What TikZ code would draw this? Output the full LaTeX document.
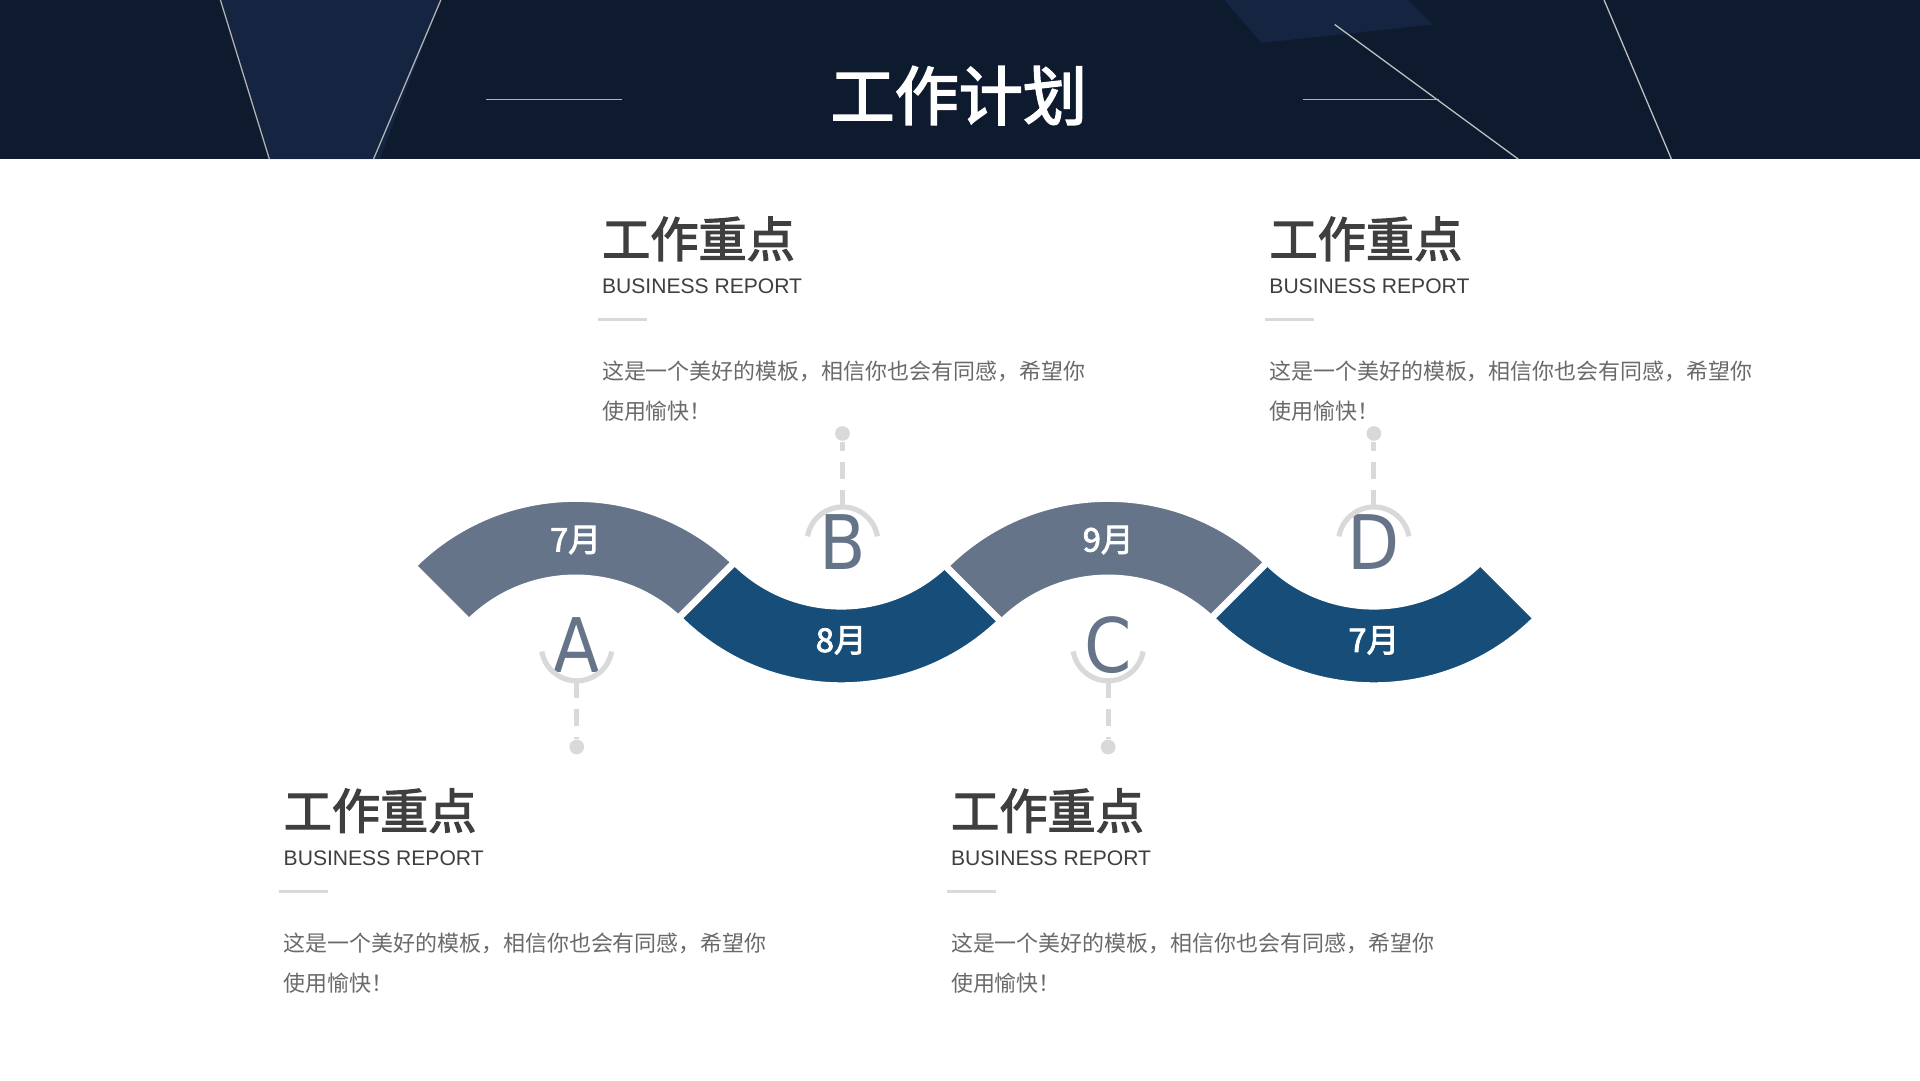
\documentclass[tikz,border=0pt]{standalone}
\usepackage{fontspec}
\setmainfont{Liberation Sans}
\newfontfamily\cjk[AutoFakeBold=2.5]{Noto Sans CJK SC}
\newfontfamily\thin{DejaVu Sans Condensed}
\definecolor{navy}{HTML}{0E1A2E}
\definecolor{facet}{HTML}{1B2F55}
\definecolor{slate}{HTML}{667489}
\definecolor{deepblue}{HTML}{164E79}
\definecolor{txt}{HTML}{3F3F3F}
\definecolor{body}{HTML}{6A6A6A}
\definecolor{lg}{HTML}{D9D9D9}
\tikzset{
 band/.style={draw=white,line width=1.6pt,line join=miter},
 letter/.style={text=slate,font=\thin\fontsize{17.5}{17.5}\selectfont,inner sep=0},
 month/.style={text=white,font=\cjk\bfseries\fontsize{7.6}{8}\selectfont},
 conn/.style={lg,line width=1.2pt,dash pattern=on 4pt off 2.5pt},
 ring/.style={lg,line width=1.2pt},
 dotn/.style={circle,fill=lg,minimum size=0.12cm,inner sep=0},
 ttl/.style={anchor=west,text=txt,font=\cjk\bfseries\fontsize{11.2}{12}\selectfont,inner sep=0},
 sub/.style={anchor=west,text=txt,font=\fontsize{4.9}{6}\selectfont,inner sep=0},
 bod/.style={anchor=west,text=body,font=\cjk\fontsize{5.1}{6}\selectfont,inner sep=0},
}
\begin{document}
\begin{tikzpicture}
\useasboundingbox (0,0) rectangle (15.68,-8.82);
\fill[white] (0,0) rectangle (15.68,-8.82);
% header
\fill[navy] (0,0) rectangle (15.68,-1.30);
\begin{scope}
\clip (0,0) rectangle (15.68,-1.30);
\fill[facet,opacity=0.5] (1.8,0) -- (2.2,-1.3) -- (3.1,-1.3) -- (3.6,0) -- cycle;
\fill[facet,opacity=0.5] (10.0,0) -- (10.3,-0.35) -- (11.7,-0.2) -- (11.5,0) -- cycle;
\draw[gray!60,line width=0.3pt] (1.8,0) -- (2.2,-1.3);
\draw[gray!60,line width=0.3pt] (3.05,-1.3) -- (3.6,0);
\draw[gray!50,line width=0.3pt] (10.9,-0.2) -- (12.4,-1.3);
\draw[gray!50,line width=0.3pt] (13.1,0) -- (13.65,-1.3);
\end{scope}
\draw[gray!60,line width=0.3pt] (3.97,-0.81) -- (5.08,-0.81);
\draw[gray!60,line width=0.3pt] (10.64,-0.81) -- (11.75,-0.81);
\node[text=white,font=\cjk\bfseries\fontsize{14.9}{15}\selectfont] (title) at (7.83,-0.78) {工作计划};
% bands
\fill[slate,band] (4.70,-5.95) ++(45:1.88) arc (45:135:1.88) -- ++(315:0.65) arc (135:45:1.23) -- cycle;
\fill[deepblue,band] (6.87,-3.72) ++(225:1.88) arc (225:315:1.88) -- ++(135:0.65) arc (315:225:1.23) -- cycle;
\fill[slate,band] (9.05,-5.95) ++(45:1.88) arc (45:135:1.88) -- ++(315:0.65) arc (135:45:1.23) -- cycle;
\fill[deepblue,band] (11.22,-3.72) ++(225:1.88) arc (225:315:1.88) -- ++(135:0.65) arc (315:225:1.23) -- cycle;
\node[month] (m1) at (4.70,-4.41) {7月};
\node[month] (m2) at (6.87,-5.23) {8月};
\node[month] (m3) at (9.05,-4.41) {9月};
\node[month] (m4) at (11.22,-5.23) {7月};
% letters
\node[letter] (A) at (4.71,-5.27) {A};
\node[letter] (B) at (6.88,-4.43) {B};
\node[letter] (C) at (9.05,-5.27) {C};
\node[letter] (D) at (11.22,-4.43) {D};
\draw[ring] (4.71,-5.27) ++(190:0.29) arc (190:350:0.29);
\draw[ring] (6.88,-4.43) ++(10:0.29) arc (10:170:0.29);
\draw[ring] (9.05,-5.27) ++(190:0.29) arc (190:350:0.29);
\draw[ring] (11.22,-4.43) ++(10:0.29) arc (10:170:0.29);
\coordinate (Ab) at (4.71,-5.56); \coordinate (Bt) at (6.88,-4.14);
\coordinate (Cb) at (9.05,-5.56); \coordinate (Dt) at (11.22,-4.14);
\node[dotn] (dA) at (4.71,-6.10) {};
\node[dotn] (dB) at (6.88,-3.54) {};
\node[dotn] (dC) at (9.05,-6.10) {};
\node[dotn] (dD) at (11.22,-3.54) {};
\draw[conn] (Ab) -- (dA); \draw[conn] (Bt) -- (dB);
\draw[conn] (Cb) -- (dC); \draw[conn] (Dt) -- (dD);
% text blocks
\foreach \n/\x/\y in {b1/4.91/0, b2/10.36/0, b3/2.31/4.67, b4/7.76/4.67}{
 \node[ttl] (\n t) at (\x,-1.95-\y) {工作重点};
 \node[sub] (\n s) at (\x,-2.34-\y) {BUSINESS REPORT};
 \draw[lg,line width=0.8pt] (\x-0.03,-2.61-\y) -- (\x+0.37,-2.61-\y);
 \node[bod] (\n a) at (\x,-3.03-\y) {这是一个美好的模板，相信你也会有同感，希望你};
 \node[bod] (\n b) at (\x,-3.36-\y) {使用愉快！};
}
\end{tikzpicture}
\end{document}
